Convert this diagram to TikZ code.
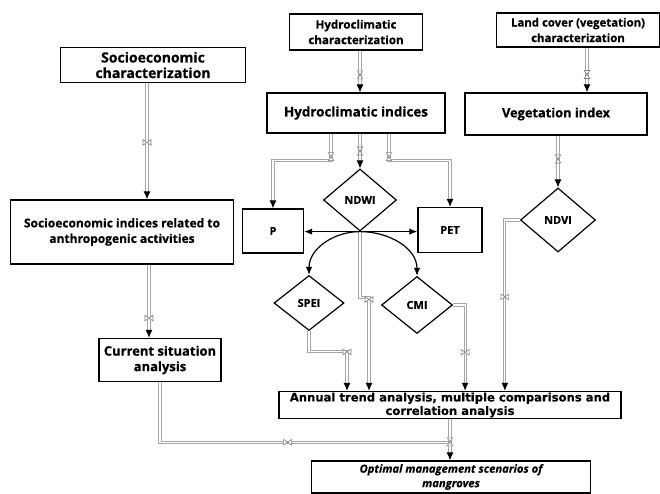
\documentclass[tikz,border=0pt]{standalone}
\usepackage{fontspec}
\setmainfont{Open Sans}[BoldFeatures={FakeBold=0.6}, BoldItalicFeatures={FakeBold=0.6}]
\newfontfamily\dejavu{DejaVu Sans}[BoldFeatures={FakeBold=0.4}]
\usetikzlibrary{shapes.geometric,arrows.meta}

\newcommand{\fs}[1]{\bfseries\fontsize{#1}{15.5}\selectfont}

\tikzset{
  box/.style={draw, line width=1.4pt, align=center, inner sep=2pt, font=\fs{11.5}},
  test/.style={draw, diamond, line width=1.2pt, inner sep=0pt, font=\fs{11}},
  link/.style={draw=gray!70, double=white, double distance=1.1pt, line width=1pt,
    -{Latex[black,length=8pt,width=7pt]}},
  flow/.style={black, line width=1.2pt, -{Latex[length=8pt,width=6.5pt]}},
  valve/.pic={\draw[gray, line width=0.6pt, fill=white]
    (-4pt,-2.8pt) -- (4pt,2.8pt) -- (4pt,-2.8pt) -- (-4pt,2.8pt) -- cycle;}
}

\begin{document}
\begin{tikzpicture}[x=1pt,y=-1pt]
\useasboundingbox (0,0) rectangle (660,494);

% characterization
\node[box, minimum width=133pt, minimum height=36pt, font=\fs{11.6}] (hydchar) at (356,32) {Hydroclimatic\\characterization};
\node[box, minimum width=163pt, minimum height=34pt, font=\fs{11.4}] (landchar) at (578,30) {Land cover (vegetation)\\characterization};
\node[box, minimum width=185pt, minimum height=35pt, font=\fs{14}] (sociochar) at (153,65) {Socioeconomic\\characterization};

% indices
\node[box, minimum width=178pt, minimum height=40pt, font=\fs{13.4}] (hydind) at (356,113) {Hydroclimatic indices};
\node[box, minimum width=182pt, minimum height=42pt, font=\fs{12.8}] (vegind) at (556,114) {Vegetation index};
\node[box, minimum width=223pt, minimum height=64pt, font=\fs{12}] (socioind) at (122,232) {Socioeconomic indices related to\\anthropogenic activities};
\node[box, minimum width=61pt, minimum height=44pt, font=\fs{11}] (P) at (273,231) {P};
\node[box, minimum width=64pt, minimum height=45pt, font=\fs{11}] (PET) at (450,230) {PET};

\node[test, minimum width=73pt, minimum height=62pt] (ndwi) at (360,200) {NDWI};
\node[test, minimum width=75pt, minimum height=64pt] (ndvi) at (558,220) {NDVI};
\node[test, minimum width=70pt, minimum height=55pt] (spei) at (309,303) {SPEI};
\node[test, minimum width=71pt, minimum height=57pt] (cmi) at (417,305) {CMI};

% analysis
\node[box, minimum width=122pt, minimum height=43pt, font=\fs{13}] (current) at (160,360) {Current situation\\analysis};
\node[box, minimum width=342pt, minimum height=27pt, inner sep=0.5pt,
  font=\dejavu\bfseries\fontsize{11.6}{13.5}\selectfont] (annual) at (450,405)
  {Annual trend analysis, multiple comparisons and\\correlation analysis};
\node[box, minimum width=279pt, minimum height=32pt, inner sep=0.5pt,
  font=\bfseries\itshape\fontsize{11.2}{14.5}\selectfont] (optimal) at (451,477)
  {Optimal management scenarios of\\mangroves};

\coordinate (split) at ([yshift=-27pt]hydind.south);
\coordinate (join) at ([yshift=-23pt]annual.south);

% double links
\draw[link] (hydchar.south -| ndwi.north) -- (hydind.north -| ndwi.north) pic[pos=0.58,rotate=90]{valve};
\draw[link] ([xshift=9pt]landchar.south) -- ([xshift=9pt]landchar.south |- vegind.north) pic[pos=0.6,rotate=90]{valve};
\draw[link] (vegind.south -| ndvi.north) -- (ndvi.north) pic[pos=0.45,rotate=90]{valve};
\draw[link] ([xshift=-25pt]hydind.south) -- ([xshift=-25pt]split) pic[pos=0.85,rotate=90]{valve} -| (P.north);
\draw[link] ([xshift=33pt]hydind.south) -- ([xshift=33pt]split) pic[pos=0.85,rotate=90]{valve} -| (PET.north);
\draw[link] (hydind.south -| ndwi.north) -- (ndwi.north) pic[pos=0.5,rotate=90]{valve};

\draw[link] ([xshift=-6pt]sociochar.south) -- ([xshift=-6pt]sociochar.south |- socioind.north) pic[pos=0.51]{valve};
\draw[link] ([xshift=27pt]socioind.south) -- ([xshift=27pt]socioind.south |- current.north) pic[pos=0.73]{valve};
\draw[link, -] (current.south) |- (join) pic[pos=0.72]{valve};
\draw[link] (annual.south) -- (annual.south |- optimal.north) pic[pos=0.55,rotate=90]{valve};

\draw[link] (ndwi.south) -- ++(0,66) -- ++(9,0) coordinate (k1) -- (k1 |- annual.north) pic[pos=0.02]{valve};
\draw[link] (spei.south) -- ++(0,20) -- ++(38,0) coordinate (k2) -- (k2 |- annual.north) pic[pos=0.02]{valve};
\draw[link] (cmi.east) -- ++(12,0) coordinate (k3) -- (k3 |- annual.north) pic[pos=0.55]{valve};
\draw[link] (ndvi.west) -- ++(-15,0) coordinate (k4) -- (k4 |- annual.north) pic[pos=0.45]{valve};

% black arrows from NDWI
\draw[flow] (ndwi.south) -- (ndwi.south -| P.east);
\draw[flow] (ndwi.south) -- (ndwi.south -| PET.west);
\draw[flow] (ndwi.south) to[out=180,in=90] (spei.north);
\draw[flow] (ndwi.south) to[out=0,in=90] (cmi.north);
\end{tikzpicture}
\end{document}
